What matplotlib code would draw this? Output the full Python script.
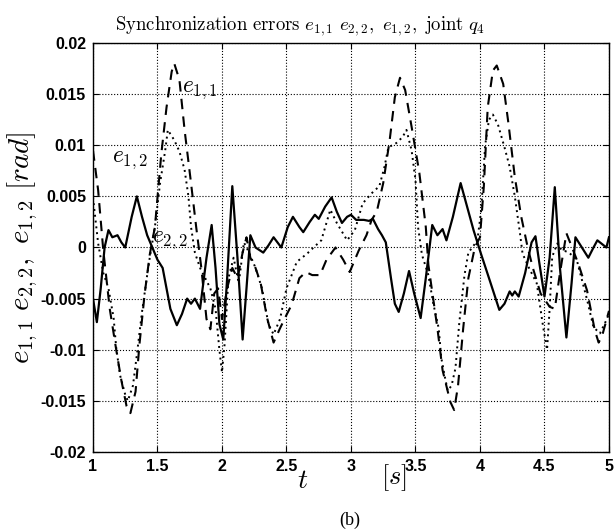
import numpy as np
import matplotlib
matplotlib.use('Agg')
import matplotlib.pyplot as plt

plt.rcParams['mathtext.fontset'] = 'cm'
plt.rcParams['font.family'] = ['Liberation Sans', 'DejaVu Sans']

# e_{1,2} (solid)
t12 = [1.00, 1.03, 1.06, 1.09, 1.12, 1.15, 1.19, 1.22, 1.25, 1.30, 1.34, 1.38, 1.42, 1.46,
       1.50, 1.54, 1.60, 1.65, 1.69, 1.73, 1.76, 1.79, 1.83, 1.88, 1.92, 1.95, 1.98, 2.01,
       2.04, 2.08, 2.12, 2.16, 2.19, 2.22, 2.26, 2.32, 2.36, 2.40, 2.46, 2.51, 2.55, 2.60,
       2.63, 2.68, 2.72, 2.75, 2.80, 2.85, 2.89, 2.93, 2.97, 3.00, 3.04, 3.10, 3.14, 3.17,
       3.21, 3.24, 3.27, 3.31, 3.34, 3.37, 3.41, 3.45, 3.49, 3.54, 3.58, 3.63, 3.67, 3.71,
       3.74, 3.79, 3.85, 3.90, 3.95, 4.01, 4.07, 4.15, 4.19, 4.23, 4.25, 4.27, 4.30, 4.35,
       4.40, 4.43, 4.46, 4.50, 4.54, 4.58, 4.62, 4.67, 4.71, 4.74, 4.79, 4.84, 4.88, 4.91,
       4.95, 4.98, 5.00]
e12 = [-0.0050, -0.0073, -0.0040, 0.0000, 0.0017, 0.0010, 0.0012, 0.0005, 0.0000, 0.0030,
       0.0050, 0.0030, 0.0012, 0.0000, -0.0012, -0.0020, -0.0060, -0.0076, -0.0065, -0.0050,
       -0.0055, -0.0050, -0.0060, -0.0010, 0.0022, -0.0020, -0.0075, -0.0090, -0.0030, 0.0060,
       -0.0010, -0.0090, -0.0040, 0.0012, 0.0000, -0.0005, 0.0002, 0.0010, 0.0000, 0.0020,
       0.0030, 0.0020, 0.0015, 0.0025, 0.0032, 0.0028, 0.0040, 0.0049, 0.0035, 0.0024,
       0.0030, 0.0032, 0.0027, 0.0027, 0.0026, 0.0028, 0.0018, 0.0012, 0.0005, -0.0030,
       -0.0055, -0.0063, -0.0045, -0.0023, -0.0045, -0.0069, -0.0030, 0.0022, 0.0012, 0.0018,
       0.0007, 0.0030, 0.0063, 0.0040, 0.0017, -0.0007, -0.0030, -0.0061, -0.0055, -0.0043,
       -0.0047, -0.0043, -0.0048, -0.0025, 0.0005, 0.0011, -0.0015, -0.0048, -0.0010, 0.0059,
       -0.0020, -0.0088, -0.0035, 0.0010, 0.0000, -0.0010, 0.0000, 0.0007, 0.0003, 0.0000,
       0.0010]

# e_{1,1} (dashed)
t11 = [1.00, 1.04, 1.08, 1.13, 1.18, 1.22, 1.26, 1.29, 1.33, 1.36, 1.40, 1.44, 1.48, 1.53,
       1.57, 1.61, 1.63, 1.67, 1.71, 1.76, 1.80, 1.84, 1.88, 1.91, 1.94, 1.97, 2.00, 2.04,
       2.08, 2.12, 2.16, 2.19, 2.22, 2.26, 2.30, 2.35, 2.40, 2.45, 2.50, 2.54, 2.60, 2.65,
       2.70, 2.76, 2.81, 2.88, 2.94, 2.99, 3.06, 3.12, 3.16, 3.20, 3.25, 3.30, 3.34, 3.38,
       3.42, 3.47, 3.53, 3.58, 3.60, 3.67, 3.71, 3.77, 3.80, 3.83, 3.87, 3.91, 3.96, 4.00,
       4.03, 4.06, 4.10, 4.13, 4.18, 4.22, 4.27, 4.32, 4.37, 4.41, 4.47, 4.54, 4.58, 4.62,
       4.67, 4.72, 4.76, 4.83, 4.89, 4.92, 4.95, 5.00]
e11 = [0.0095, 0.0056, -0.0003, -0.0060, -0.0100, -0.0130, -0.0155, -0.0162, -0.0141, -0.0095,
       -0.0046, -0.0007, 0.0020, 0.0092, 0.0137, 0.0172, 0.0180, 0.0164, 0.0115, 0.0063,
       0.0020, -0.0020, -0.0070, -0.0080, -0.0045, -0.0040, -0.0070, -0.0040, -0.0020, -0.0030,
       -0.0005, 0.0010, -0.0010, -0.0020, -0.0035, -0.0069, -0.0093, -0.0079, -0.0066, -0.0056,
       -0.0030, -0.0024, -0.0027, -0.0027, -0.0012, 0.0000, -0.0012, -0.0024, -0.0003, 0.0012,
       0.0027, 0.0035, 0.0063, 0.0105, 0.0147, 0.0166, 0.0154, 0.0118, 0.0073, 0.0020,
       -0.0017, -0.0079, -0.0120, -0.0151, -0.0159, -0.0135, -0.0079, -0.0030, 0.0000, 0.0010,
       0.0060, 0.0137, 0.0173, 0.0178, 0.0160, 0.0122, 0.0069, 0.0030, 0.0000, -0.0020,
       -0.0045, -0.0058, -0.0060, -0.0025, 0.0014, -0.0002, -0.0015, -0.0042, -0.0081, -0.0093,
       -0.0085, -0.0062]

# e_{2,2} (dotted)
t22 = [1.00, 1.04, 1.08, 1.12, 1.16, 1.18, 1.21, 1.25, 1.27, 1.31, 1.34, 1.38, 1.42, 1.44,
       1.48, 1.52, 1.56, 1.58, 1.63, 1.67, 1.71, 1.74, 1.76, 1.79, 1.83, 1.87, 1.91, 1.95,
       1.98, 2.00, 2.02, 2.05, 2.09, 2.13, 2.17, 2.21, 2.26, 2.31, 2.36, 2.40, 2.45, 2.50,
       2.58, 2.66, 2.71, 2.77, 2.84, 2.89, 2.97, 3.03, 3.09, 3.16, 3.22, 3.26, 3.29, 3.35,
       3.40, 3.43, 3.47, 3.50, 3.52, 3.55, 3.60, 3.64, 3.68, 3.70, 3.73, 3.75, 3.78, 3.81,
       3.84, 3.88, 3.91, 3.94, 3.98, 4.01, 4.04, 4.07, 4.10, 4.14, 4.19, 4.23, 4.27, 4.31,
       4.33, 4.38, 4.44, 4.49, 4.52, 4.54, 4.56, 4.60, 4.63, 4.69, 4.75, 4.83, 4.88, 4.93,
       4.98, 5.00]
e22 = [0.0049, 0.0004, -0.0025, -0.0040, -0.0069, -0.0098, -0.0125, -0.0144, -0.0150, -0.0135,
       -0.0105, -0.0063, -0.0027, -0.0010, 0.0020, 0.0063, 0.0095, 0.0115, 0.0105, 0.0094,
       0.0076, 0.0050, 0.0020, -0.0005, -0.0020, -0.0030, -0.0040, -0.0060, -0.0100, -0.0122,
       -0.0095, -0.0030, -0.0010, -0.0035, 0.0005, -0.0005, -0.0020, -0.0040, -0.0075, -0.0085,
       -0.0070, -0.0040, -0.0014, -0.0006, 0.0000, 0.0007, 0.0037, 0.0024, 0.0007, 0.0017,
       0.0043, 0.0053, 0.0060, 0.0079, 0.0098, 0.0102, 0.0108, 0.0115, 0.0095, 0.0066,
       0.0020, -0.0007, -0.0027, -0.0056, -0.0079, -0.0108, -0.0128, -0.0140, -0.0135, -0.0118,
       -0.0073, -0.0027, -0.0005, 0.0000, 0.0007, 0.0037, 0.0100, 0.0125, 0.0130, 0.0120,
       0.0098, 0.0079, 0.0050, 0.0014, -0.0006, -0.0020, -0.0035, -0.0078, -0.0100, -0.0060,
       -0.0009, 0.0004, -0.0002, -0.0005, -0.0012, -0.0051, -0.0078, -0.0084, -0.0071, -0.0065]

xticks = [1, 1.5, 2, 2.5, 3, 3.5, 4, 4.5, 5]
xlabels = ['1', '1.5', '2', '2.5', '3', '3.5', '4', '4.5', '5']
yticks = [-0.02, -0.015, -0.01, -0.005, 0, 0.005, 0.01, 0.015, 0.02]
ylabels = ['-0.02', '-0.015', '-0.01', '-0.005', '0', '0.005', '0.01', '0.015', '0.02']

fig = plt.figure(figsize=(6.15, 5.29), dpi=100)
ax = fig.add_axes([0.1512, 0.1456, 0.8390, 0.7731])

ax.plot(t12, e12, color='k', lw=1.6, ls='-')
ax.plot(t11, e11, color='k', lw=1.5, ls=(0, (5, 3.5)))
ax.plot(t22, e22, color='k', lw=1.4, ls=(0, (1, 2)))

ax.set_xlim(1, 5)
ax.set_ylim(-0.02, 0.02)
ax.set_xticks(xticks)
ax.set_xticklabels(xlabels)
ax.set_yticks(yticks)
ax.set_yticklabels(ylabels)
ax.tick_params(direction='in', top=True, right=True, labelsize=11.5, length=4, width=0.8, pad=5)
for lab in ax.get_xticklabels() + ax.get_yticklabels():
    lab.set_fontweight('bold')
ax.grid(True, color='k', ls=':', lw=0.8)
for s in ax.spines.values():
    s.set_linewidth(1.0)

ttl = ax.set_title(r'$\mathrm{Synchronization\ errors}\ e_{1,1}\ e_{2,2},\ e_{1,2},\ \mathrm{joint}\ q_4$',
                   fontsize=13.5, pad=9)
ttl.set_x((300 - 93) / 516)
ax.set_ylabel(r'$e_{1,1}\ e_{2,2},\ e_{1,2}\ [rad]$', fontsize=21, labelpad=0)

# curve labels
ax.text(1.83, 0.0154, r'$e_{1,1}$', fontsize=17, ha='center', va='center')
ax.text(1.29, 0.0086, r'$e_{1,2}$', fontsize=17, ha='center', va='center')
ax.text(1.60, 0.0007, r'$e_{2,2}$', fontsize=17, ha='center', va='center')

# axis unit labels, placed like the original
fig.text(303 / 615, 1 - 481 / 529, r'$t$', fontsize=20, ha='center', va='center')
fig.text(394 / 615, 1 - 478 / 529, r'$[s]$', fontsize=19, ha='center', va='center')
fig.text(350 / 615, 1 - 520 / 529, '(b)', fontsize=13, ha='center', va='center',
         family=['Liberation Serif', 'DejaVu Serif'])

plt.savefig('out.png', dpi=100)
